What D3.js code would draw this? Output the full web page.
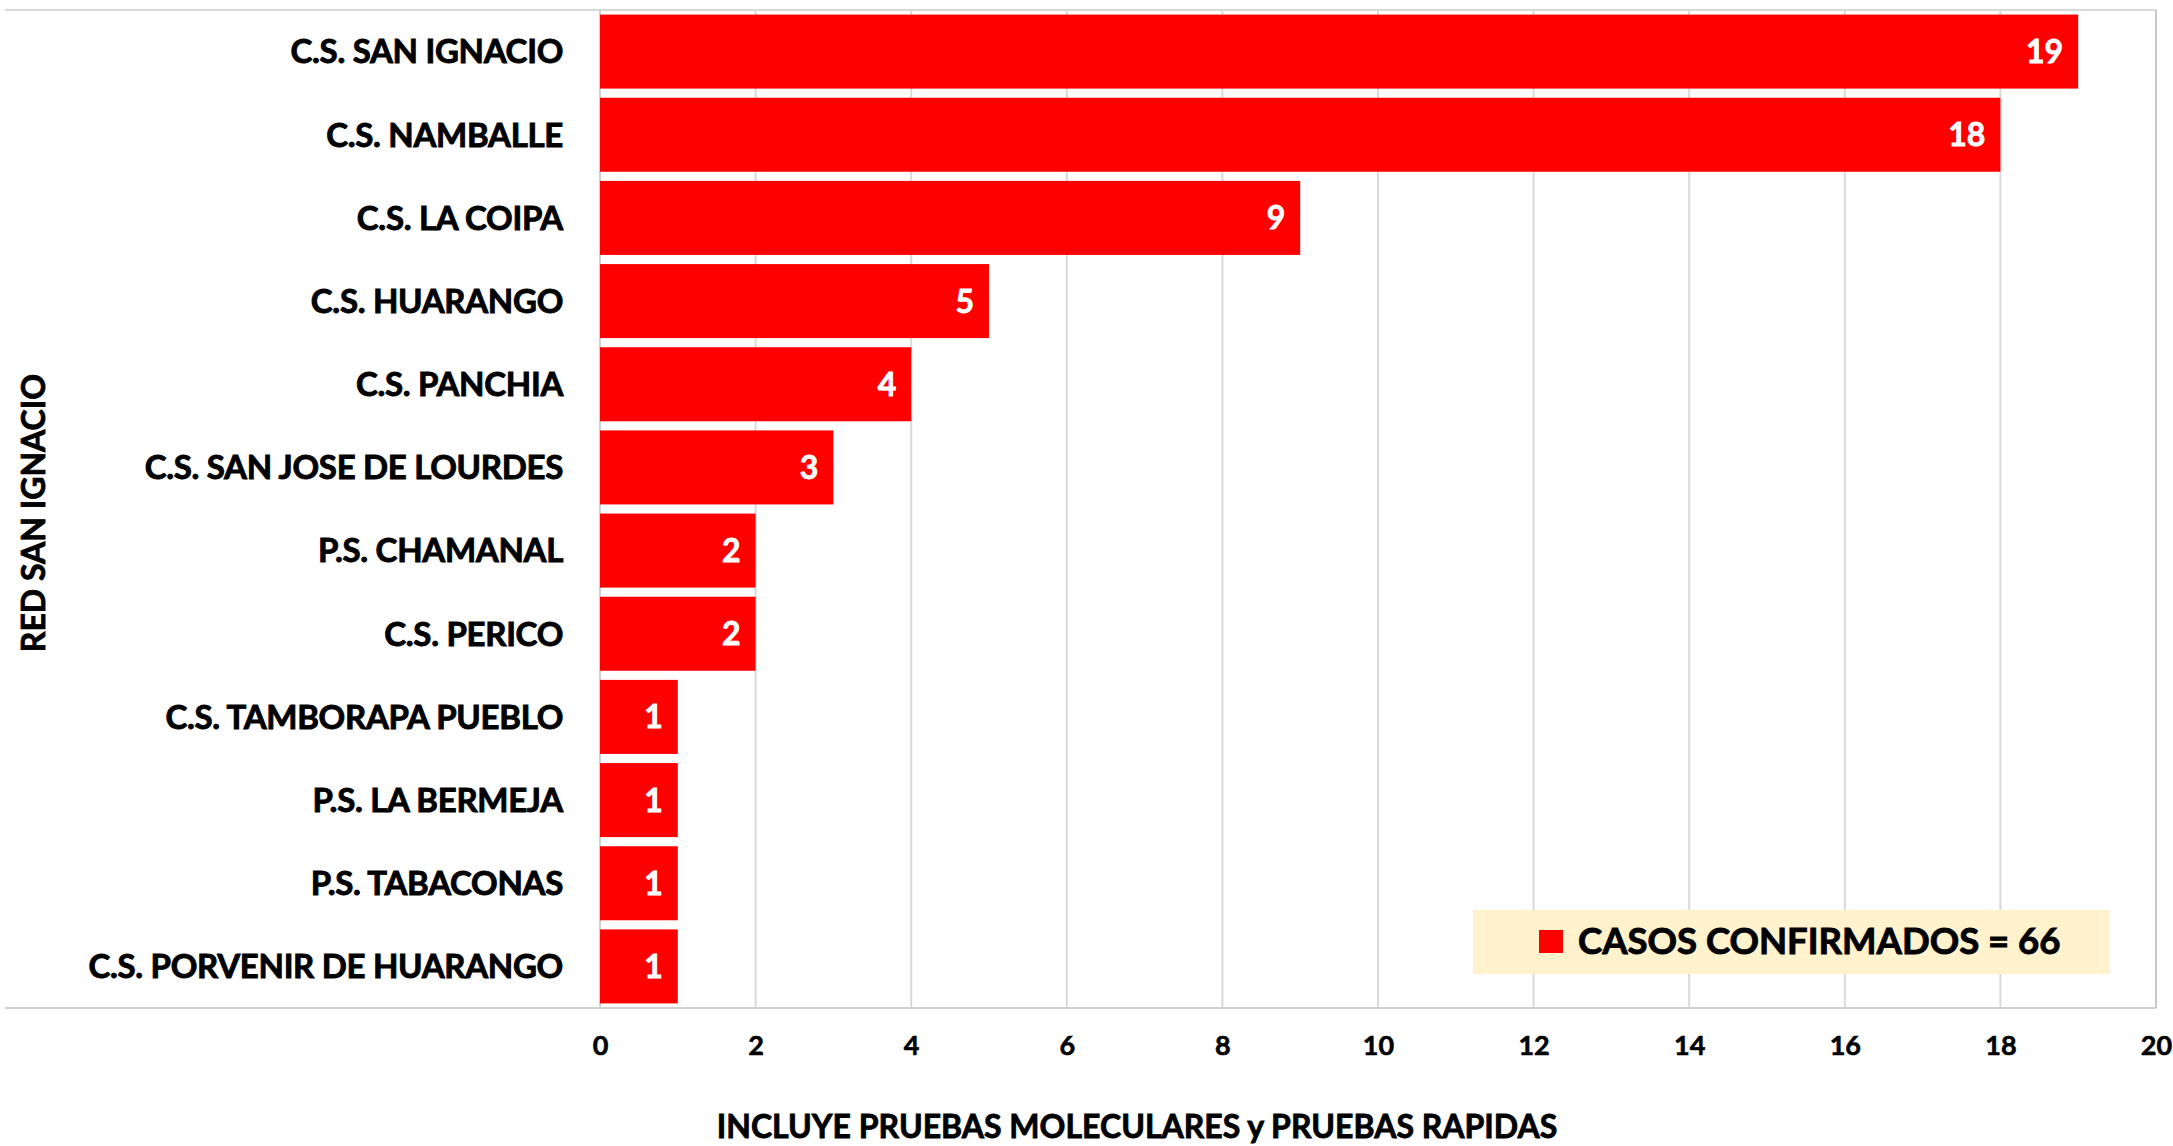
<!DOCTYPE html>
<html>
<head>
<meta charset="utf-8">
<script src="https://cdn.jsdelivr.net/npm/d3@7"></script>
<style>
  html, body { margin: 0; padding: 0; background: #fff; }
  svg { display: block; }
  text { font-family: Lato, "Open Sans", sans-serif; font-weight: 700; }
</style>
</head>
<body>
<svg id="chart" width="2173" height="1146"></svg>
<script>
const categories = [
  "C.S. SAN IGNACIO",
  "C.S. NAMBALLE",
  "C.S. LA COIPA",
  "C.S. HUARANGO",
  "C.S. PANCHIA",
  "C.S. SAN JOSE DE LOURDES",
  "P.S. CHAMANAL",
  "C.S. PERICO",
  "C.S. TAMBORAPA PUEBLO",
  "P.S. LA BERMEJA",
  "P.S. TABACONAS",
  "C.S. PORVENIR DE HUARANGO"
];
const values = [19, 18, 9, 5, 4, 3, 2, 2, 1, 1, 1, 1];
const xTicks = [0, 2, 4, 6, 8, 10, 12, 14, 16, 18, 20];
const legendLabel = "CASOS CONFIRMADOS = 66";
const xTitle = "INCLUYE PRUEBAS MOLECULARES y PRUEBAS RAPIDAS";
const yTitle = "RED SAN IGNACIO";

const svg = d3.select("#chart");
const plot = { left: 600, right: 2156, top: 10, bottom: 1008 };

const x = d3.scaleLinear().domain([0, 20]).range([plot.left, plot.right]);
const y = d3.scaleBand().domain(categories).range([plot.top, plot.bottom]).paddingInner(0.11).paddingOuter(0.055);

// gridlines
svg.append("g").selectAll("line").data(xTicks.slice(1, -1)).join("line")
  .attr("x1", d => x(d)).attr("x2", d => x(d))
  .attr("y1", plot.top).attr("y2", plot.bottom)
  .attr("stroke", "#d9d9d9").attr("stroke-width", 2);

// frame lines
svg.append("line").attr("x1", 5).attr("x2", plot.right).attr("y1", plot.top).attr("y2", plot.top)
  .attr("stroke", "#d9d9d9").attr("stroke-width", 2);
svg.append("line").attr("x1", 5).attr("x2", plot.right).attr("y1", plot.bottom).attr("y2", plot.bottom)
  .attr("stroke", "#d0d0d0").attr("stroke-width", 2);
svg.append("line").attr("x1", plot.right).attr("x2", plot.right).attr("y1", plot.top).attr("y2", plot.bottom)
  .attr("stroke", "#c8c8c8").attr("stroke-width", 2);
svg.append("line").attr("x1", plot.left).attr("x2", plot.left).attr("y1", plot.top).attr("y2", plot.bottom)
  .attr("stroke", "#d0d0d0").attr("stroke-width", 2);

// bars
svg.append("g").selectAll("rect").data(values).join("rect")
  .attr("x", x(0)).attr("y", (d, i) => y(categories[i]))
  .attr("width", d => x(d) - x(0)).attr("height", y.bandwidth())
  .attr("fill", "#ff0000");

// value labels
svg.append("g").selectAll("text").data(values).join("text")
  .attr("x", d => x(d) - 15).attr("y", (d, i) => y(categories[i]) + y.bandwidth() / 2)
  .attr("dy", "0.36em").attr("text-anchor", "end")
  .attr("fill", "#fff").attr("stroke", "#fff").attr("stroke-width", 0.8).attr("font-size", 32)
  .text(d => d);

// category labels
const yAxis = d3.axisLeft(y).tickSize(0).tickPadding(37);
const gy = svg.append("g").attr("transform", `translate(${plot.left},0)`).call(yAxis);
gy.select(".domain").remove();
gy.selectAll("text").attr("font-size", 33).attr("fill", "#000").attr("stroke", "#000").attr("stroke-width", 0.9)
  .attr("letter-spacing", -0.3)
  .attr("font-family", "Lato, 'Open Sans', sans-serif").attr("font-weight", 700).attr("dy", "0.36em");

// x axis tick labels
const xAxis = d3.axisBottom(x).tickValues(xTicks).tickSize(0).tickPadding(0);
const gx = svg.append("g").attr("transform", `translate(0,${1045})`).call(xAxis);
gx.select(".domain").remove();
gx.selectAll("text").attr("font-size", 27).attr("fill", "#000").attr("stroke", "#000").attr("stroke-width", 0.6).attr("dy", "0.36em")
  .attr("font-family", "Lato, 'Open Sans', sans-serif").attr("font-weight", 700);

// x title
svg.append("text").attr("x", 1137).attr("y", 1126).attr("dy", "0.36em")
  .attr("text-anchor", "middle").attr("font-size", 32).attr("fill", "#000")
  .attr("stroke", "#000").attr("stroke-width", 0.8).text(xTitle);

// y title
svg.append("text").attr("transform", "translate(33,513) rotate(-90)").attr("dy", "0.36em")
  .attr("text-anchor", "middle").attr("font-size", 32).attr("fill", "#000")
  .attr("stroke", "#000").attr("stroke-width", 0.8).text(yTitle);

// legend
const lg = svg.append("g");
lg.append("rect").attr("x", 1473).attr("y", 910).attr("width", 637).attr("height", 64).attr("fill", "#fff2cc");
lg.append("rect").attr("x", 1539).attr("y", 930).attr("width", 24).attr("height", 23).attr("fill", "#ff0000");
lg.append("text").attr("x", 1578).attr("y", 941).attr("dy", "0.36em").attr("font-size", 36.5).attr("fill", "#000")
  .attr("stroke", "#000").attr("stroke-width", 0.9).text(legendLabel);
</script>
</body>
</html>
